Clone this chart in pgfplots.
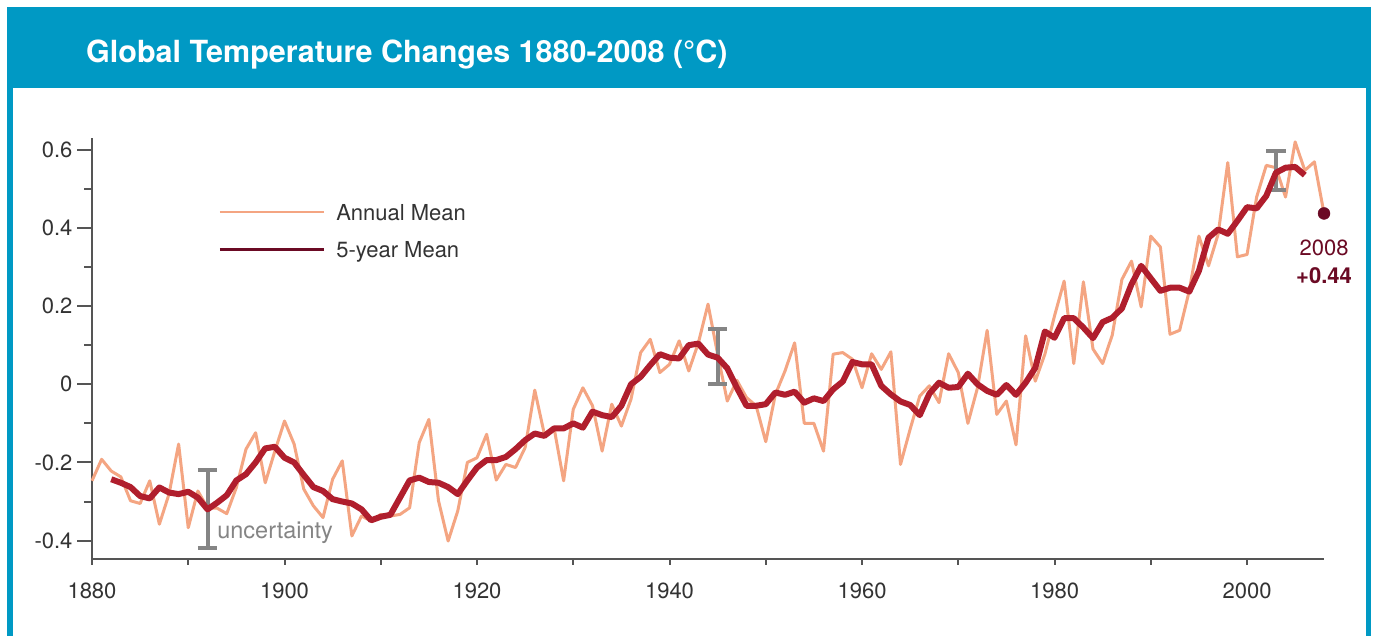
\documentclass[border=0pt]{standalone}
\usepackage{fontspec}
\setmainfont{TeX Gyre Heros}
\usepackage{pgfplots}
\pgfplotsset{compat=1.18}
\usepackage{pgfplotstable}
\definecolor{frameblue}{HTML}{0099C4}
\definecolor{annual}{HTML}{F4A582}
\definecolor{fivey}{HTML}{B01E2D}
\definecolor{maroon}{HTML}{6B0A24}
\definecolor{axgray}{HTML}{555555}
\definecolor{txtgray}{HTML}{333333}
\definecolor{errgray}{HTML}{858585}

\pgfplotstableread{
year val
1880 -0.247
1881 -0.192
1882 -0.222
1883 -0.237
1884 -0.298
1885 -0.305
1886 -0.247
1887 -0.358
1888 -0.281
1889 -0.153
1890 -0.367
1891 -0.273
1892 -0.316
1893 -0.317
1894 -0.331
1895 -0.264
1896 -0.166
1897 -0.124
1898 -0.252
1899 -0.171
1900 -0.094
1901 -0.153
1902 -0.268
1903 -0.311
1904 -0.341
1905 -0.243
1906 -0.196
1907 -0.388
1908 -0.337
1909 -0.350
1910 -0.333
1911 -0.337
1912 -0.333
1913 -0.316
1914 -0.149
1915 -0.090
1916 -0.298
1917 -0.401
1918 -0.324
1919 -0.200
1920 -0.188
1921 -0.128
1922 -0.245
1923 -0.205
1924 -0.213
1925 -0.162
1926 -0.015
1927 -0.128
1928 -0.111
1929 -0.247
1930 -0.064
1931 -0.009
1932 -0.055
1933 -0.171
1934 -0.051
1935 -0.107
1936 -0.038
1937 0.081
1938 0.115
1939 0.030
1940 0.051
1941 0.111
1942 0.034
1943 0.106
1944 0.205
1945 0.077
1946 -0.043
1947 0.010
1948 -0.034
1949 -0.055
1950 -0.147
1951 -0.026
1952 0.034
1953 0.106
1954 -0.100
1955 -0.100
1956 -0.171
1957 0.077
1958 0.081
1959 0.064
1960 -0.009
1961 0.078
1962 0.038
1963 0.083
1964 -0.205
1965 -0.115
1966 -0.030
1967 -0.004
1968 -0.047
1969 0.078
1970 0.030
1971 -0.100
1972 -0.009
1973 0.138
1974 -0.077
1975 -0.043
1976 -0.155
1977 0.124
1978 0.008
1979 0.077
1980 0.175
1981 0.264
1982 0.053
1983 0.262
1984 0.090
1985 0.053
1986 0.126
1987 0.268
1988 0.315
1989 0.198
1990 0.379
1991 0.351
1992 0.128
1993 0.138
1994 0.239
1995 0.379
1996 0.303
1997 0.384
1998 0.567
1999 0.326
2000 0.332
2001 0.479
2002 0.560
2003 0.554
2004 0.479
2005 0.620
2006 0.547
2007 0.569
2008 0.437
}\annualdata

\pgfplotstableread{
year val
1882 -0.243
1883 -0.252
1884 -0.263
1885 -0.286
1886 -0.292
1887 -0.264
1888 -0.277
1889 -0.281
1890 -0.275
1891 -0.290
1892 -0.320
1893 -0.303
1894 -0.284
1895 -0.246
1896 -0.230
1897 -0.200
1898 -0.164
1899 -0.160
1900 -0.188
1901 -0.200
1902 -0.232
1903 -0.263
1904 -0.273
1905 -0.294
1906 -0.300
1907 -0.305
1908 -0.320
1909 -0.348
1910 -0.339
1911 -0.334
1912 -0.290
1913 -0.246
1914 -0.239
1915 -0.250
1916 -0.252
1917 -0.263
1918 -0.281
1919 -0.246
1920 -0.213
1921 -0.194
1922 -0.194
1923 -0.186
1924 -0.166
1925 -0.143
1926 -0.126
1927 -0.132
1928 -0.113
1929 -0.113
1930 -0.100
1931 -0.111
1932 -0.070
1933 -0.079
1934 -0.084
1935 -0.055
1936 0.000
1937 0.019
1938 0.049
1939 0.077
1940 0.068
1941 0.066
1942 0.100
1943 0.104
1944 0.076
1945 0.068
1946 0.041
1947 -0.009
1948 -0.055
1949 -0.055
1950 -0.051
1951 -0.021
1952 -0.027
1953 -0.019
1954 -0.047
1955 -0.036
1956 -0.043
1957 -0.013
1958 0.007
1959 0.057
1960 0.051
1961 0.051
1962 -0.004
1963 -0.026
1964 -0.044
1965 -0.053
1966 -0.079
1967 -0.024
1968 0.004
1969 -0.009
1970 -0.007
1971 0.027
1972 0.000
1973 -0.017
1974 -0.027
1975 -0.002
1976 -0.027
1977 0.004
1978 0.042
1979 0.135
1980 0.119
1981 0.169
1982 0.169
1983 0.145
1984 0.118
1985 0.159
1986 0.170
1987 0.194
1988 0.256
1989 0.303
1990 0.271
1991 0.239
1992 0.247
1993 0.247
1994 0.237
1995 0.290
1996 0.375
1997 0.396
1998 0.385
1999 0.418
2000 0.453
2001 0.450
2002 0.482
2003 0.541
2004 0.554
2005 0.556
2006 0.535
}\fivedata

\begin{document}
\begin{tikzpicture}
\path[use as bounding box] (0pt,0pt) rectangle (1378pt,636pt);
\fill[frameblue] (7pt,0pt) rectangle (1371pt,629pt);
\fill[white] (13pt,0pt) rectangle (1366pt,548pt);
\node[anchor=base west, inner sep=0pt, text=white, font=\bfseries\fontsize{30.5}{35}\selectfont] at (86pt,573pt) {Global Temperature Changes 1880-2008 (°C)};
\begin{axis}[
  at={(92pt,77pt)}, anchor=south west,
  scale only axis, width=1232pt, height=421pt,
  xmin=1880, xmax=2008, ymin=-0.447, ymax=0.63,
  axis lines=left,
  axis line style={axgray, line width=2pt, -},
  xtick={1880,1900,1920,1940,1960,1980,2000},
  xticklabels={1880,1900,1920,1940,1960,1980,2000},
  minor xtick={1890,1910,1930,1950,1970,1990},
  ytick={-0.4,-0.2,0,0.2,0.4,0.6},
  yticklabels={-0.4,-0.2,0,0.2,0.4,0.6},
  minor ytick={-0.3,-0.1,0.1,0.3,0.5},
  tick align=outside,
  major tick length=15pt, minor tick length=8pt,
  xtick style={/pgfplots/major tick length=6pt, /pgfplots/minor tick length=6pt},
  tick style={axgray, line width=2pt},
  tick label style={font=\fontsize{22}{26}\selectfont, text=txtgray},
  xticklabel style={yshift=-5pt},
  yticklabel style={xshift=-1pt},
  clip=false,
  legend style={at={(axis cs:1893.1,0.461)}, anchor=north west, draw=none, fill=none,
    inner sep=0pt, row sep=21pt,
    nodes={inner sep=0pt, text height=16pt, text depth=0pt, font=\fontsize{22}{26}\selectfont, text=txtgray},
    /tikz/every odd column/.append style={column sep=11pt}},
  legend cell align=left,
]
\addplot[annual, line width=3pt, line join=round,
  legend image code/.code={\draw[annual, line width=2pt] (0pt,0pt) -- (104pt,0pt);}]
  table[x=year, y=val] {\annualdata};
\addlegendentry{Annual Mean}
% uncertainty bars
\addplot[errgray, line width=4pt, forget plot] coordinates {(1892,-0.22) (1892,-0.42)};
\addplot[errgray, line width=4pt, forget plot] coordinates {(1891,-0.22) (1893,-0.22)};
\addplot[errgray, line width=4pt, forget plot] coordinates {(1891,-0.42) (1893,-0.42)};
\addplot[errgray, line width=4pt, forget plot] coordinates {(1945,0.141) (1945,0.0)};
\addplot[errgray, line width=4pt, forget plot] coordinates {(1944,0.141) (1946,0.141)};
\addplot[errgray, line width=4pt, forget plot] coordinates {(1944,0.0) (1946,0.0)};
\addplot[errgray, line width=4pt, forget plot] coordinates {(2003,0.598) (2003,0.497)};
\addplot[errgray, line width=4pt, forget plot] coordinates {(2002,0.598) (2004,0.598)};
\addplot[errgray, line width=4pt, forget plot] coordinates {(2002,0.497) (2004,0.497)};
\addplot[fivey, line width=6pt, line join=round,
  legend image code/.code={\draw[maroon, line width=3pt] (0pt,0pt) -- (104pt,0pt);}]
  table[x=year, y=val] {\fivedata};
\addlegendentry{5-year Mean}
\addplot[only marks, mark=*, mark size=6pt, maroon, forget plot] coordinates {(2008,0.437)};
\node[inner sep=0pt, text=maroon, font=\fontsize{22}{26}\selectfont] at (axis cs:2008,0.349) {2008};
\node[inner sep=0pt, text=maroon, font=\bfseries\fontsize{22}{26}\selectfont] at (axis cs:2008,0.277) {+0.44};
\node[anchor=west, inner sep=0pt, text=errgray, font=\fontsize{23.5}{28}\selectfont] at (axis cs:1893.0,-0.38) {uncertainty};
\end{axis}
\end{tikzpicture}
\end{document}
